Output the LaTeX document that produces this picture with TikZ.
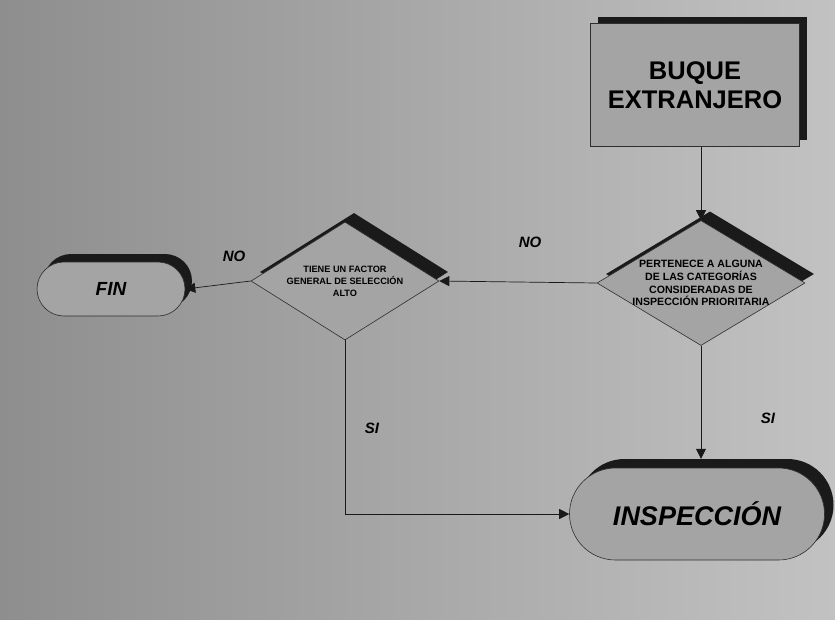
\documentclass[tikz,border=0pt]{standalone}
\usepackage{fontspec}
\setmainfont{Liberation Sans}
\usetikzlibrary{shapes.geometric,arrows.meta}
\definecolor{bgA}{HTML}{8E8E8E}
\definecolor{bgB}{HTML}{C2C2C2}
\definecolor{nodeF}{HTML}{A4A4A4}
\definecolor{lineC}{HTML}{2E2E2E}
\definecolor{shadC}{HTML}{1A1A1A}
\begin{document}
\begin{tikzpicture}[x=1pt,y=-1pt,
  shape body/.style={draw=lineC, line width=0.6pt, fill=nodeF, inner sep=0pt},
  shadowbody/.style={fill=shadC, draw=none, inner sep=0pt},
  boxshape/.style={rectangle, minimum width=209pt, minimum height=123pt},
  diashape/.style={diamond, aspect=1.66},
  pillfin/.style={rectangle, rounded corners=27pt, minimum width=148pt, minimum height=54pt},
  pillins/.style={rectangle, rounded corners=46pt, minimum width=255pt, minimum height=92pt},
  diatext/.style={align=center, font=\bfseries\fontsize{10.6}{12.8}\selectfont, inner sep=0pt},
  bigtext/.style={align=center, font=\bfseries\fontsize{25.5}{29}\selectfont, inner sep=0pt},
  lab/.style={font=\bfseries\itshape\fontsize{15}{17}\selectfont, inner sep=0pt},
  conn/.style={draw=black!90, line width=0.7pt, -{Triangle[length=10pt,width=10pt]}}
]
\useasboundingbox (0,0) rectangle (835,619);
\shade[left color=bgA, right color=bgB] (0,0) rectangle (835,619);

% shadows
\node[shadowbody, boxshape] (sbuque) at (702,78) {};
\node[shadowbody, diashape, minimum width=208pt, minimum height=125pt] (sd1) at (710,274) {};
\node[shadowbody, diashape, minimum width=188pt, minimum height=118pt] (sd2) at (354,272) {};
\node[shadowbody, pillfin] (sfin) at (118,281) {};
\node[shadowbody, pillins] (sinsp) at (706,505) {};

% shapes
\node[shape body, boxshape] (buque) at (695,85) {};
\node[shape body, diashape, minimum width=208pt, minimum height=125pt] (d1) at (701,283) {};
\node[shape body, diashape, minimum width=188pt, minimum height=118pt] (d2) at (345,281) {};
\node[shape body, pillfin] (fin) at (111,289) {};
\node[shape body, pillins] (insp) at (697,514) {};

% texts
\node[bigtext] (tbuque) at (buque) {BUQUE\\EXTRANJERO};
\node[diatext] (td1) at (d1) {PERTENECE A ALGUNA\\DE LAS CATEGORÍAS\\CONSIDERADAS DE\\INSPECCIÓN PRIORITARIA};
\node[diatext, font=\bfseries\fontsize{9.2}{12}\selectfont] (td2) at (d2) {TIENE UN FACTOR\\GENERAL DE SELECCIÓN\\ALTO};
\node[font=\bfseries\itshape\fontsize{19}{22}\selectfont] (tfin) at (fin) {FIN};
\node[font=\bfseries\itshape\fontsize{27}{30}\selectfont] (tinsp) at (insp) {INSPECCIÓN};

% connectors
\draw[conn] (d1.north |- buque.south) -- (d1.north);
\draw[conn] (d1.west) -- (d2.east);
\draw[conn] (d2.west) -- (fin.east);
\draw[conn] (d2.south) |- (insp.west);
\draw[conn] (d1.south) -- (d1.south |- sinsp.north);

% labels
\node[lab] (no1) at (530,242) {NO};
\node[lab] (no2) at (234,256) {NO};
\node[lab] (si1) at (372,428) {SI};
\node[lab] (si2) at (768,418) {SI};
\end{tikzpicture}
\end{document}
